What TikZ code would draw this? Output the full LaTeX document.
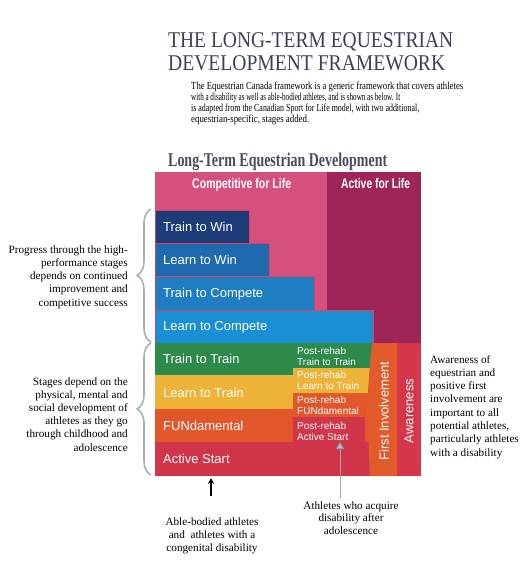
\documentclass[tikz,border=0pt]{standalone}
\usepackage{fontspec}
\setmainfont{Liberation Serif}
\setsansfont{Liberation Sans}
\usetikzlibrary{decorations.pathreplacing,arrows.meta}
\definecolor{titlec}{HTML}{3C405C}
\definecolor{subc}{HTML}{4A4C5E}
\definecolor{pinkc}{HTML}{D6507E}
\definecolor{aflc}{HTML}{9F2458}
\definecolor{twinc}{HTML}{1C3D78}
\definecolor{lwinc}{HTML}{1F69AE}
\definecolor{tcompc}{HTML}{1E7EC1}
\definecolor{lcompc}{HTML}{1A8FD3}
\definecolor{greenc}{HTML}{2E8A4B}
\definecolor{yellowc}{HTML}{ECB338}
\definecolor{orangec}{HTML}{E1562B}
\definecolor{redc}{HTML}{D13549}
\definecolor{firstc}{HTML}{E25B2A}
\definecolor{awarec}{HTML}{D5364A}
\definecolor{bracec}{HTML}{A7AEBE}
\definecolor{edgec}{HTML}{E0405E}
\definecolor{arrowc}{HTML}{A9C2DA}
\definecolor{arrowedge}{HTML}{8A9AAE}
\newcommand{\sqz}[2]{\resizebox{#1}{\height}{#2}}
\tikzset{
  txt/.style={anchor=base west,inner sep=0pt},
  stage/.style={anchor=base west,inner sep=0pt,text=white,font=\sffamily\fontsize{13}{13}\selectfont},
  post/.style={anchor=base west,inner sep=0pt,text=white,font=\sffamily\fontsize{10}{10}\selectfont},
  note/.style={inner sep=0pt,font=\fontsize{11.2}{11.2}\selectfont},
  bluebox/.style={draw=edgec,line width=0.5pt},
  bracestyle/.style={draw=bracec,line width=1.6pt,decorate,decoration={brace,amplitude=14pt}},
}
\begin{document}
\begin{tikzpicture}[x=1pt,y=-1pt]
\useasboundingbox[fill=white] (0,0) rectangle (531,563);

% title
\node[txt,text=titlec] (t1) at (168,47) {\sqz{285pt}{\fontsize{22.5}{22.5}\selectfont THE LONG-TERM EQUESTRIAN}};
\node[txt,text=titlec] (t2) at (168,70) {\sqz{277pt}{\fontsize{22.5}{22.5}\selectfont DEVELOPMENT FRAMEWORK}};
% paragraph
\node[txt] (p1) at (191,89) {\sqz{272pt}{\fontsize{10.8}{10.8}\selectfont The Equestrian Canada framework is a generic framework that covers athletes}};
\node[txt] (p2) at (191,100.5) {\sqz{209pt}{\fontsize{10.8}{10.8}\selectfont with a disability as well as able-bodied athletes, and is shown as below. It}};
\node[txt] (p3) at (191,111.5) {\sqz{228pt}{\fontsize{10.8}{10.8}\selectfont is adapted from the Canadian Sport for Life model, with two additional,}};
\node[txt] (p4) at (191,122.5) {\sqz{118pt}{\fontsize{10.8}{10.8}\selectfont equestrian-specific, stages added.}};
% subtitle
\node[txt,text=subc] (st) at (168,166) {\sqz{219pt}{\fontsize{19.5}{19.5}\selectfont\bfseries Long-Term Equestrian Development}};

% big regions
\fill[pinkc] (155,172) rectangle (327,310);
\fill[aflc] (327,172) rectangle (421,343);
\node[txt,text=white] (cfl) at (192,188) {\sqz{99pt}{\sffamily\bfseries\fontsize{14}{14}\selectfont Competitive for Life}};
\node[txt,text=white] (afl) at (341,188) {\sqz{69pt}{\sffamily\bfseries\fontsize{14}{14}\selectfont Active for Life}};

% blue stages
\filldraw[fill=lcompc,bluebox] (155,310) rectangle (373,343);
\filldraw[fill=tcompc,bluebox] (155,276) rectangle (314,310);
\filldraw[fill=lwinc,bluebox] (155,243) rectangle (269,276);
\filldraw[fill=twinc,bluebox] (155,210) rectangle (249,243);

% lower bands
\fill[greenc] (155,343) -- (373,343) -- (369,376) -- (155,376) -- cycle;
\fill[orangec] (293,376) rectangle (372,442);
\fill[orangec] (155,409) rectangle (293,442);
\fill[yellowc] (155,375) rectangle (293,409);
\fill[yellowc] (293,368) -- (370,368) -- (368,393) -- (293,393) -- cycle;
\fill[redc] (155,442) rectangle (372,476);
\fill[redc] (293,417) rectangle (365,442);
% right strips
\fill[firstc] (372,343) -- (397,343) -- (397,476) -- (370,476) -- (367,410) -- (369,376) -- cycle;
\fill[awarec] (397,343) rectangle (421,476);

% stage labels
\node[stage] (s1) at (163,231) {Train to Win};
\node[stage] (s2) at (163,264) {Learn to Win};
\node[stage] (s3) at (163,297) {Train to Compete};
\node[stage] (s4) at (163,330) {Learn to Compete};
\node[stage] (s5) at (163,363) {Train to Train};
\node[stage] (s6) at (163,397) {Learn to Train};
\node[stage] (s7) at (163,430) {FUNdamental};
\node[stage] (s8) at (163,463) {Active Start};

% post-rehab labels
\node[post] (r1a) at (297,354) {Post-rehab};
\node[post] (r1b) at (297,365) {Train to Train};
\node[post] (r2a) at (297,378) {Post-rehab};
\node[post] (r2b) at (297,389) {Learn to Train};
\node[post] (r3a) at (297,403) {Post-rehab};
\node[post] (r3b) at (297,414) {FUNdamental};
\node[post] (r4a) at (297,429) {Post-rehab};
\node[post] (r4b) at (297,440) {Active Start};

% vertical strip labels
\node[rotate=90,text=white,inner sep=0pt,font=\sffamily\fontsize{13}{13}\selectfont] (fi) at (384,411) {First Involvement};
\node[rotate=90,text=white,inner sep=0pt,font=\sffamily\fontsize{13}{13}\selectfont] (aw) at (409,411) {Awareness};

% braces
\coordinate (b1s) at (151,342);
\coordinate (b1e) at (151,209);
\coordinate (b2s) at (151,475);
\coordinate (b2e) at (151,343);
\draw[bracestyle] (b1s) -- (b1e);
\draw[bracestyle] (b2s) -- (b2e);

% left notes
\foreach \t [count=\i] in {Progress through the high-,performance stages,depends on continued,improvement and,competitive success}
  \node[note,anchor=base east] (la\i) at (128,253+13.3*\i-13.3) {\t};
\foreach \t [count=\i] in {Stages depend on the,{physical, mental and},social development of,athletes as they go,through childhood and,adolescence}
  \node[note,anchor=base east] (lb\i) at (128,385+13.2*\i-13.2) {\t};
% right notes
\foreach \t [count=\i] in {Awareness of,equestrian and,positive first,involvement are,important to all,{potential athletes,},particularly athletes,with a disability}
  \node[note,anchor=base west] (rn\i) at (430,363+13.3*\i-13.3) {\t};
% bottom notes
\foreach \t [count=\i] in {Able-bodied athletes,and~ athletes with a,congenital disability}
  \node[note,anchor=base] (bn\i) at (212,525+13*\i-13) {\t};
\foreach \t [count=\i] in {Athletes who acquire,disability after,adolescence}
  \node[note,anchor=base] (an\i) at (351,509+12.7*\i-12.7) {\t};

% arrows
\coordinate (abtail) at (211,496);
\coordinate (abtip) at (211,478);
\draw[line width=1.2pt,-{Stealth[length=6pt,width=6pt]}] (abtail) -- (abtip);
\coordinate (actail) at (340,498);
\coordinate (actip) at (340,442);
\draw[draw=gray!70,line width=0.8pt,-{Triangle[length=7pt,width=8pt,fill=arrowc,color=arrowedge]}] (actail) -- (actip);
\end{tikzpicture}
\end{document}
